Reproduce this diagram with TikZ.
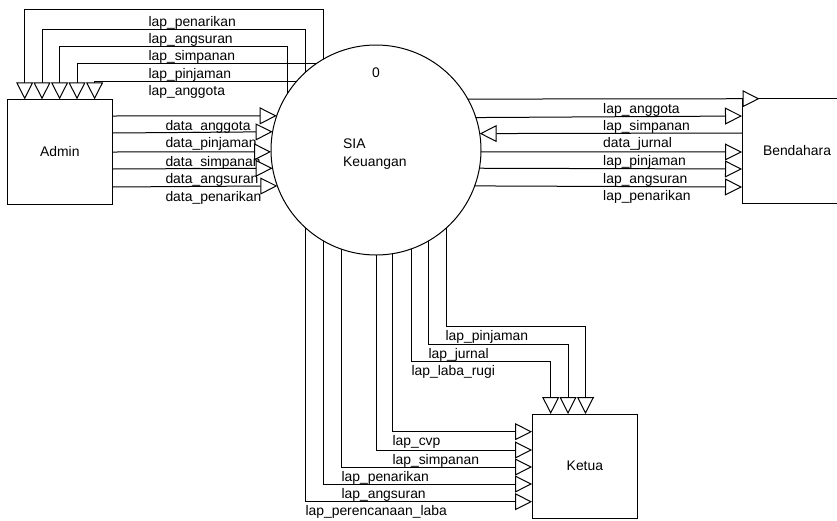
\documentclass[tikz,border=0pt]{standalone}
\usepackage{fontspec}
\setmainfont{Liberation Sans}
\usetikzlibrary{arrows.meta}
\begin{document}
\begin{tikzpicture}[x=1pt,y=-1pt,
  font=\fontsize{13.9}{16}\selectfont, line width=1pt,
  box/.style={draw, minimum width=105pt, minimum height=105pt, inner sep=0pt, outer sep=0pt},
  proc/.style={draw, circle, minimum size=210pt, inner sep=0pt, outer sep=0pt},
  lbl/.style={anchor=base west, inner sep=0pt},
  flow/.style={-{Triangle[length=17pt,width=17pt,fill=white]}}]
\clip (0,0) rectangle (837,520);
% entities and process
\node[box, minimum height=104.7pt] (admin) at (59.8,151.7) {Admin};
\node[box, minimum width=105.7pt, minimum height=104pt] (ketua) at (584.9,466) {Ketua};
\node[box, minimum width=110pt, minimum height=104.6pt] (bend) at (797,151) {Bendahara};
\node[proc] (sia) at (376,150) {};
\node[anchor=base, inner sep=0pt] (num) at (376,77.5) {0};
\node[lbl] (t1) at (342.7,148.3) {SIA};
\node[lbl] (t2) at (342.7,166.7) {Keuangan};
% labels: Admin top
\node[lbl] (a1) at (148,26.3) {lap\_penarikan};
\node[lbl] (a2) at (148,43.3) {lap\_angsuran};
\node[lbl] (a3) at (148,60.7) {lap\_simpanan};
\node[lbl] (a4) at (148,78) {lap\_pinjaman};
\node[lbl] (a5) at (148,95.7) {lap\_anggota};
% labels: Admin data
\node[lbl] (d1) at (165,130.5) {data\_anggota};
\node[lbl] (d2) at (165,147.5) {data\_pinjaman};
\node[lbl] (d3) at (165,166) {data\_simpanan};
\node[lbl] (d4) at (165,183.5) {data\_angsuran};
\node[lbl] (d5) at (165,201) {data\_penarikan};
% labels: Bendahara
\node[lbl] (b1) at (602.7,113) {lap\_anggota};
\node[lbl] (b2) at (602.7,130) {lap\_simpanan};
\node[lbl] (b3) at (602.7,147) {data\_jurnal};
\node[lbl] (b4) at (602.7,165.5) {lap\_pinjaman};
\node[lbl] (b5) at (602.7,183) {lap\_angsuran};
\node[lbl] (b6) at (602.7,200.5) {lap\_penarikan};
% labels: Ketua top
\node[lbl] (k1) at (445,340.5) {lap\_pinjaman};
\node[lbl] (k2) at (428,358) {lap\_jurnal};
\node[lbl] (k3) at (411,375.5) {lap\_laba\_rugi};
% labels: Ketua left
\node[lbl] (k4) at (392,445.5) {lap\_cvp};
\node[lbl] (k5) at (392,464) {lap\_simpanan};
\node[lbl] (k6) at (341,481) {lap\_penarikan};
\node[lbl] (k7) at (341,498) {lap\_angsuran};
\node[lbl] (k8) at (305,515) {lap\_perencanaan\_laba};
% flows SIA -> Admin (top)
\draw[flow] (sia.120.95) |- (24.7,9.3) -- (24.7,0 |- admin.north);
\draw[flow] (sia.132.54) |- (42,29.3) -- (42,0 |- admin.north);
\draw[flow] (sia.147.96) |- (59.6,46.7) -- (59.6,0 |- admin.north);
\draw[flow] (sia.125.02) -| (77,0 |- admin.north);
\draw[flow] (sia.139.64) -| (94.6,0 |- admin.north);
% flows Admin -> SIA
\draw[flow] (admin.east |- 0,116) -- (sia.161.11);
\draw[flow] (admin.east |- 0,133) -- (sia.170.68);
\draw[flow] (admin.east |- 0,152) -- (sia.181.09);
\draw[flow] (admin.east |- 0,169) -- (sia.190.43);
\draw[flow] (admin.east |- 0,187) -- (sia.200.63);
% flows SIA <-> Bendahara
\draw[flow] (sia.29.25) -- ([xshift=17.5pt]bend.north west);
\draw[flow] (sia.18.89) -- (bend.west |- 0,116);
\draw[flow] (bend.west |- 0,133) -- (sia.9.32);
\draw[flow] (sia.-1.09) -- (bend.west |- 0,152);
\draw[flow] (sia.-10.43) -- (bend.west |- 0,169);
\draw[flow] (sia.-20.63) -- (bend.west |- 0,187);
% flows SIA -> Ketua (top)
\draw[flow] (sia.-48.92) |- (585.5,326.7) -- (585.5,0 |- ketua.north);
\draw[flow] (sia.-60.32) |- (568,344) -- (568,0 |- ketua.north);
\draw[flow] (sia.-70.53) |- (550.7,361.7) -- (550.7,0 |- ketua.north);
% flows SIA -> Ketua (left)
\draw[flow] (sia.-81.23) |- (ketua.west |- 0,431.7);
\draw[flow] (sia.-90.55) |- (ketua.west |- 0,450);
\draw[flow] (sia.-109.47) |- (ketua.west |- 0,467);
\draw[flow] (sia.-120.95) |- (ketua.west |- 0,484);
\draw[flow] (sia.-132.54) |- (ketua.west |- 0,501.7);
\end{tikzpicture}
\end{document}
